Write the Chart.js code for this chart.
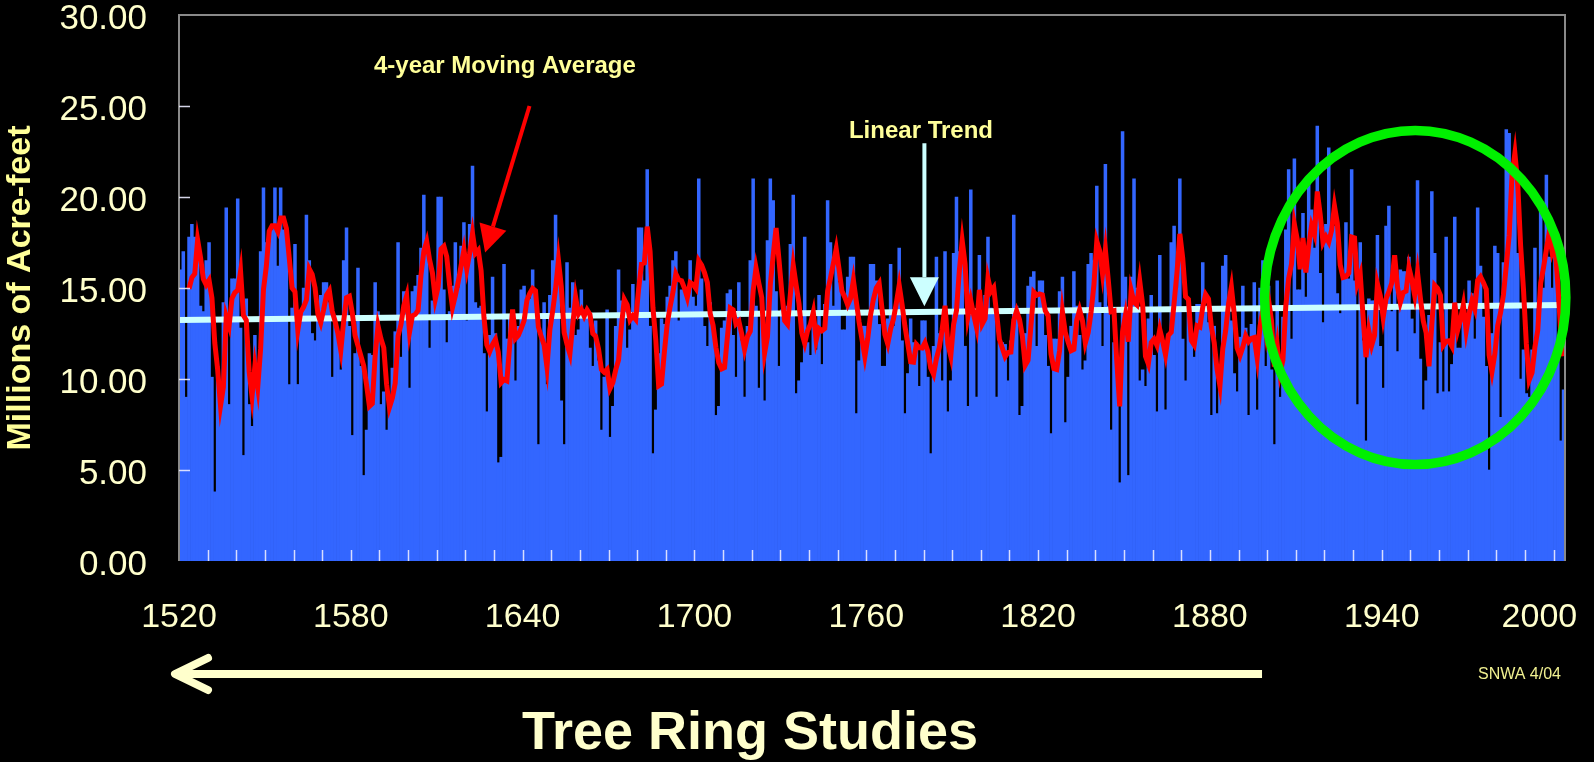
<!DOCTYPE html>
<html>
<head>
<meta charset="utf-8">
<title>Tree Ring Studies</title>
<script src="https://cdn.jsdelivr.net/npm/chart.js@4.4.1/dist/chart.umd.min.js"></script>
<style>
    html, body { margin: 0; padding: 0; background: #000; }
    #wrap { width: 1594px; height: 762px; }
</style>
</head>
<body>
<div id="wrap"><canvas id="flowChart" width="1594" height="762"></canvas></div>
<script>
// Annual flow, millions of acre-feet
const firstYear = 1520;

const flow1520to1562 = [
    16.0, 17.0, 9.0, 17.8, 18.5, 17.8, 16.5, 14.0, 13.7, 16.5, 17.5, 10.1, 3.8, 10.7, 9.5, 14.2, 19.4, 8.6, 15.5, 15.5,
    19.9, 12.8, 5.8, 14.4, 8.6, 7.4, 12.4, 9.8, 17.0, 20.5, 17.5, 17.5, 18.2, 20.5, 16.2, 20.5, 18.2, 18.2, 9.7, 13.9,
    17.4, 9.7, 13.7
];
const flow1563to1604 = [
    15.0, 19.0, 16.5, 12.5, 12.1, 13.2, 14.6, 15.3, 15.3, 14.2, 10.1, 13.1, 12.6, 10.5, 16.5, 18.3, 12.9, 6.9, 11.4, 16.1,
    10.7, 4.7, 7.2, 11.4, 11.3, 15.3, 13.7, 8.6, 9.3, 7.2, 8.7, 10.6, 12.6, 17.5, 11.2, 14.8, 14.8, 9.5, 14.8, 15.1,
    15.7, 17.2
];
const flow1605to1648 = [
    20.1, 17.2, 11.7, 14.3, 14.3, 20.0, 20.0, 14.9, 12.0, 13.7, 15.1, 17.5, 15.0, 17.3, 18.6, 13.2, 18.5, 21.7, 14.2, 13.9,
    14.0, 11.4, 8.2, 12.4, 15.6, 12.5, 5.4, 5.7, 16.3, 12.2, 13.4, 13.4, 9.9, 12.9, 14.9, 15.1, 14.4, 14.4, 16.0, 14.6,
    6.4, 12.3, 14.2, 9.7
];
const flow1649to1693 = [
    14.6, 16.5, 19.0, 16.0, 8.8, 6.4, 16.4, 13.9, 15.3, 12.4, 12.7, 14.9, 13.8, 13.8, 11.7, 10.7, 13.2, 11.0, 7.2, 10.1,
    13.8, 6.8, 8.5, 12.9, 16.0, 14.3, 14.3, 11.7, 12.7, 15.2, 13.5, 18.3, 18.3, 15.4, 21.5, 12.9, 5.9, 8.3, 11.4, 13.3,
    13.0, 14.5, 15.1, 16.5, 17.0
];
const flow1694to1737 = [
    13.2, 14.9, 14.9, 14.9, 16.5, 14.5, 14.0, 21.0, 15.5, 12.9, 11.8, 14.2, 12.9, 8.0, 8.5, 12.8, 13.2, 14.7, 14.9, 12.4,
    10.1, 15.3, 12.1, 9.0, 12.9, 16.5, 21.0, 14.0, 9.5, 13.4, 8.8, 17.6, 21.0, 19.8, 14.8, 10.7, 13.8, 13.5, 14.0, 17.4,
    20.1, 9.2, 9.9, 10.9
];
const flow1738to1780 = [
    17.8, 12.0, 11.3, 13.6, 11.6, 14.6, 10.8, 14.1, 19.8, 17.5, 14.0, 17.3, 15.3, 12.7, 12.7, 15.6, 16.7, 16.7, 8.1, 11.0,
    12.9, 12.9, 12.0, 16.3, 16.3, 15.4, 13.0, 10.7, 10.7, 13.3, 16.3, 12.9, 14.2, 17.2, 12.1, 8.1, 10.3, 13.3, 12.0, 12.0,
    9.6, 13.2, 13.2
];
const flow1781to1824 = [
    10.1, 5.9, 11.8, 16.7, 12.5, 9.9, 17.0, 8.2, 9.9, 16.9, 20.0, 17.0, 16.5, 11.8, 8.5, 20.4, 13.4, 9.0, 16.8, 12.9,
    14.6, 17.8, 13.9, 13.8, 9.0, 12.0, 12.0, 11.9, 9.9, 12.1, 19.0, 14.0, 8.0, 8.5, 12.5, 15.1, 15.6, 15.9, 11.8, 15.4,
    15.4, 12.4, 10.7, 7.0
];
const flow1825to1870 = [
    12.2, 12.2, 14.8, 15.6, 7.6, 10.1, 12.9, 15.9, 14.0, 12.4, 10.5, 11.0, 16.3, 16.9, 16.5, 20.6, 14.2, 11.8, 21.8, 14.0,
    7.2, 12.0, 10.5, 4.3, 23.6, 15.6, 4.7, 15.6, 21.0, 15.0, 9.9, 10.5, 9.6, 13.3, 14.6, 11.3, 8.2, 16.8, 12.0, 8.3,
    12.5, 17.5, 18.4, 15.0, 21.0, 12.2
];
const flow1871to1915 = [
    9.9, 14.4, 12.0, 11.2, 14.1, 14.1, 16.4, 14.0, 13.1, 8.0, 12.9, 8.1, 9.5, 16.2, 16.8, 14.0, 13.2, 10.3, 9.3, 12.3,
    15.1, 12.8, 8.0, 13.0, 15.3, 8.3, 15.0, 16.5, 10.7, 15.1, 10.5, 6.4, 15.4, 9.0, 13.4, 18.2, 21.5, 12.2, 22.1, 14.9,
    14.9, 19.1, 14.5, 20.8, 19.3
];
const flow1916to1961 = [
    17.2, 23.9, 15.8, 13.1, 18.5, 22.7, 18.4, 18.4, 14.7, 13.6, 15.6, 18.6, 15.5, 21.5, 15.4, 8.6, 17.5, 12.1, 6.6, 14.4,
    14.3, 14.3, 17.9, 11.8, 9.5, 18.4, 19.5, 13.7, 15.6, 11.5, 16.0, 15.9, 15.9, 16.7, 13.3, 12.5, 20.9, 11.1, 8.3, 9.9,
    13.5, 20.3, 16.9, 9.2, 12.0, 9.3
];
const flow1962to2003 = [
    17.8, 9.3, 10.8, 18.9, 11.7, 11.7, 14.0, 13.1, 15.4, 14.7, 12.2, 19.4, 16.2, 13.4, 10.7, 5.0, 12.5, 17.3, 16.9, 7.9,
    16.4, 23.7, 23.5, 21.2, 21.2, 16.9, 10.0, 11.6, 9.2, 9.0, 11.6, 17.2, 13.0, 19.3, 15.0, 21.2, 16.7, 15.0, 17.0, 12.0,
    6.6, 9.4
];

// Linear trend, read at both ends of the plot
const trendYears = [1520, 2004];
const trendValues = [13.24, 14.07];

// Axis labels
const yearLabels = [1520, 1580, 1640, 1700, 1760, 1820, 1880, 1940, 2000];
const flowTicks = [0, 5, 10, 15, 20, 25, 30];

const flow = [].concat(
    flow1520to1562, flow1563to1604, flow1605to1648, flow1649to1693, flow1694to1737, flow1738to1780,
    flow1781to1824, flow1825to1870, flow1871to1915, flow1916to1961, flow1962to2003
);

// Bars sit in the middle of their year slot
const barPoints = flow.map((v, i) => ({ x: firstYear + i + 0.5, y: v }));

// Excel style 4-year moving average (first point on the 4th year)
const movingAvg = [];
for (let i = 3; i < flow.length; i++) {
    const avg = (flow[i] + flow[i - 1] + flow[i - 2] + flow[i - 3]) / 4;
    movingAvg.push({ x: firstYear + i + 0.5, y: avg });
}

const trendPoints = trendYears.map((yr, i) => ({ x: yr, y: trendValues[i] }));

const FONT = "'Liberation Sans', Arial, sans-serif";
const PALE = '#FFFFCC';
const YELLOW = '#FFFF99';

// Callouts, placed in data units so they follow the axes
const notes = {
    maLabel: { year: 1633.8, value: 27.2, text: '4-year Moving Average' },
    maArrow: { from: [1642.4, 25.0], to: [1626.9, 16.95] },
    trendLabel: { year: 1779.1, value: 23.6, text: 'Linear Trend' },
    trendArrow: { from: [1780.3, 22.95], to: [1780.3, 14.0] },
    ring: { year: 1951.7, value: 14.48, halfYears: 52.6, halfValue: 9.18 },
    studyArrow: { fromYear: 1898.2, toYear: 1520 }
};

function drawArrow(ctx, x1, y1, x2, y2, color, width, headLen, headHalf) {
    const ang = Math.atan2(y2 - y1, x2 - x1);
    const bx = x2 - headLen * Math.cos(ang);
    const by = y2 - headLen * Math.sin(ang);
    ctx.strokeStyle = color;
    ctx.fillStyle = color;
    ctx.lineWidth = width;
    ctx.beginPath();
    ctx.moveTo(x1, y1);
    ctx.lineTo(bx, by);
    ctx.stroke();
    ctx.beginPath();
    ctx.moveTo(x2, y2);
    ctx.lineTo(bx + headHalf * Math.sin(ang), by - headHalf * Math.cos(ang));
    ctx.lineTo(bx - headHalf * Math.sin(ang), by + headHalf * Math.cos(ang));
    ctx.closePath();
    ctx.fill();
}

const frameAndTicks = {
    id: 'frameAndTicks',
    afterDatasetsDraw(chart) {
        const { ctx, chartArea: a, scales: { x, y } } = chart;
        ctx.save();
        ctx.strokeStyle = '#8a8a8a';
        ctx.lineWidth = 2;
        ctx.beginPath();
        ctx.moveTo(a.left, a.bottom);
        ctx.lineTo(a.left, a.top);
        ctx.lineTo(a.right, a.top);
        ctx.lineTo(a.right, a.bottom);
        ctx.stroke();

        // short inward tick marks, like the original slide
        ctx.strokeStyle = 'rgba(235,235,255,0.9)';
        ctx.lineWidth = 1.5;
        ctx.beginPath();
        flowTicks.slice(1, -1).forEach(v => {
            const py = Math.round(y.getPixelForValue(v)) + 0.5;
            ctx.moveTo(a.left, py);
            ctx.lineTo(a.left + 11, py);
        });
        for (let yr = firstYear + 10; yr <= 2000; yr += 10) {
            const px = Math.round(x.getPixelForValue(yr)) + 0.5;
            ctx.moveTo(px, a.bottom);
            ctx.lineTo(px, a.bottom - 11);
        }
        ctx.stroke();
        ctx.restore();
    },
    afterDraw(chart) {
        const { ctx, chartArea: a, scales: { x, y } } = chart;
        ctx.save();

        // green ring around the 20th century
        const r = notes.ring;
        const cx = x.getPixelForValue(r.year);
        const cy = y.getPixelForValue(r.value);
        const rx = x.getPixelForValue(r.year + r.halfYears) - cx;
        const ry = cy - y.getPixelForValue(r.value + r.halfValue);
        ctx.strokeStyle = '#00F000';
        ctx.lineWidth = 9.5;
        ctx.beginPath();
        ctx.ellipse(cx, cy, rx, ry, 0, 0, Math.PI * 2);
        ctx.stroke();

        // red arrow to the moving average
        const m = notes.maArrow;
        drawArrow(ctx, x.getPixelForValue(m.from[0]), y.getPixelForValue(m.from[1]),
            x.getPixelForValue(m.to[0]), y.getPixelForValue(m.to[1]), '#FF0000', 4, 27, 14);

        // pale arrow to the trend line
        const t = notes.trendArrow;
        drawArrow(ctx, x.getPixelForValue(t.from[0]), y.getPixelForValue(t.from[1]),
            x.getPixelForValue(t.to[0]), y.getPixelForValue(t.to[1]), '#CCFFFF', 4, 29, 14.5);

        ctx.fillStyle = YELLOW;
        ctx.font = `bold 24px ${FONT}`;
        ctx.textAlign = 'center';
        ctx.textBaseline = 'middle';
        ctx.fillText(notes.maLabel.text, x.getPixelForValue(notes.maLabel.year), y.getPixelForValue(notes.maLabel.value));
        ctx.fillText(notes.trendLabel.text, x.getPixelForValue(notes.trendLabel.year), y.getPixelForValue(notes.trendLabel.value));

        // long arrow pointing back in time, under the axis labels
        const s = notes.studyArrow;
        const ay = a.bottom + 113;
        const tipX = x.getPixelForValue(s.toYear) - 4;
        ctx.strokeStyle = PALE;
        ctx.lineWidth = 8;
        ctx.lineCap = 'butt';
        ctx.beginPath();
        ctx.moveTo(x.getPixelForValue(s.fromYear), ay);
        ctx.lineTo(tipX + 4, ay);
        ctx.stroke();
        ctx.lineCap = 'round';
        ctx.lineJoin = 'round';
        ctx.beginPath();
        ctx.moveTo(tipX + 33, ay - 16);
        ctx.lineTo(tipX, ay);
        ctx.lineTo(tipX + 33, ay + 16);
        ctx.stroke();

        ctx.fillStyle = PALE;
        ctx.font = `bold 54px ${FONT}`;
        ctx.textAlign = 'center';
        ctx.textBaseline = 'alphabetic';
        ctx.fillText('Tree Ring Studies', 750, 749);

        ctx.fillStyle = '#F0F090';
        ctx.font = `16px ${FONT}`;
        ctx.textAlign = 'left';
        ctx.fillText('SNWA 4/04', 1478, 679);
        ctx.restore();
    }
};

const blackBackground = {
    id: 'blackBackground',
    beforeDraw(chart) {
        const { ctx, width, height } = chart;
        ctx.save();
        ctx.fillStyle = '#000';
        ctx.fillRect(0, 0, width, height);
        ctx.restore();
    }
};

new Chart(document.getElementById('flowChart'), {
    data: {
        datasets: [
            {
                type: 'line',
                label: '4-year Moving Average',
                data: movingAvg,
                borderColor: '#FF0000',
                borderWidth: 5,
                pointRadius: 0,
                tension: 0,
                order: 1
            },
            {
                type: 'line',
                label: 'Linear Trend',
                data: trendPoints,
                borderColor: '#CCFFFF',
                borderWidth: 6,
                pointRadius: 0,
                order: 2
            },
            {
                type: 'bar',
                label: 'Annual flow',
                data: barPoints,
                backgroundColor: '#3366FF',
                borderWidth: 0,
                barPercentage: 1,
                categoryPercentage: 1,
                order: 3
            }
        ]
    },
    options: {
        responsive: false,
        animation: false,
        devicePixelRatio: 1,
        layout: { padding: { left: 0, right: 29, top: 15, bottom: 0 } },
        plugins: {
            legend: { display: false },
            tooltip: { enabled: false }
        },
        events: [],
        scales: {
            x: {
                type: 'linear',
                offset: false,
                min: firstYear,
                max: 2004,
                grid: { display: false, offset: false },
                border: { display: false },
                afterBuildTicks: scale => { scale.ticks = yearLabels.map(v => ({ value: v })); },
                afterFit: scale => {
                    scale.height = 201;
                    scale.paddingLeft = 0;
                    scale.paddingRight = 0;
                },
                ticks: {
                    autoSkip: false,
                    maxRotation: 0,
                    padding: 28,
                    color: PALE,
                    font: { family: FONT, size: 34 },
                    // the last label is pulled in to stay inside the frame, as on the slide
                    callback: v => v === yearLabels[yearLabels.length - 1] ? v + '\u00A0\u00A0\u00A0' : String(v)
                }
            },
            y: {
                min: 0,
                max: 30,
                grid: { display: false },
                border: { display: false },
                afterBuildTicks: scale => { scale.ticks = flowTicks.map(v => ({ value: v })); },
                afterFit: scale => {
                    scale.width = 179;
                    scale.paddingTop = 0;
                    scale.paddingBottom = 0;
                },
                ticks: {
                    padding: 24,
                    labelOffset: 4,
                    color: PALE,
                    font: { family: FONT, size: 35 },
                    callback: v => Number(v).toFixed(2)
                },
                title: {
                    display: true,
                    text: 'Millions of Acre-feet',
                    color: YELLOW,
                    padding: 0,
                    font: { family: FONT, size: 34, weight: 'bold' }
                }
            }
        }
    },
    plugins: [blackBackground, frameAndTicks]
});
</script>
</body>
</html>
